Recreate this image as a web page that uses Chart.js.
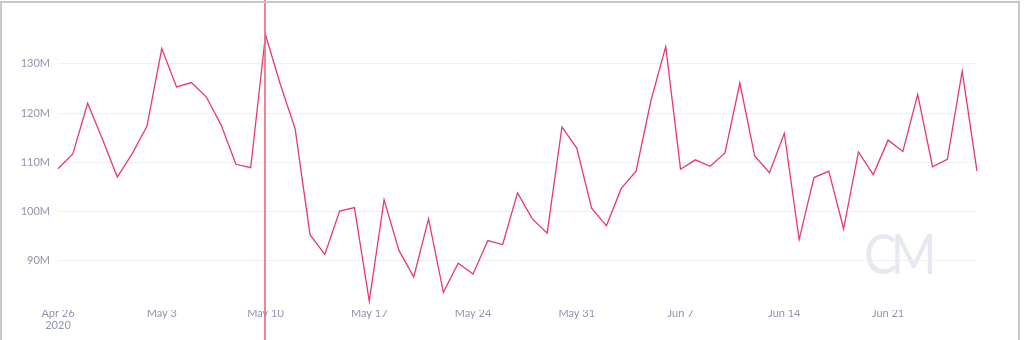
<!DOCTYPE html>
<html lang="en">
<head>
    <meta charset="UTF-8">
    <title>Daily volume</title>
    <script src="https://cdn.jsdelivr.net/npm/chart.js"></script>
    <style>
        body { margin: 0; background: #fff; overflow: hidden; }
        #wrap { position: relative; width: 1024px; height: 340px; }
        #frame {
            position: absolute; left: 0; top: 1px; width: 1016px; height: 400px;
            border: 2px solid #c6c8d0; pointer-events: none;
        }
    </style>
</head>
<body>
    <div id="wrap">
        <canvas id="chart" width="1024" height="340"></canvas>
        <div id="frame"></div>
    </div>

    <script>
        // Daily dates, Apr 26 - Jun 27 2020
        const dates = [
            'Apr 26', 'Apr 27', 'Apr 28', 'Apr 29', 'Apr 30', 'May 1', 'May 2',
            'May 3', 'May 4', 'May 5', 'May 6', 'May 7', 'May 8', 'May 9',
            'May 10', 'May 11', 'May 12', 'May 13', 'May 14', 'May 15', 'May 16',
            'May 17', 'May 18', 'May 19', 'May 20', 'May 21', 'May 22', 'May 23',
            'May 24', 'May 25', 'May 26', 'May 27', 'May 28', 'May 29', 'May 30',
            'May 31', 'Jun 1', 'Jun 2', 'Jun 3', 'Jun 4', 'Jun 5', 'Jun 6',
            'Jun 7', 'Jun 8', 'Jun 9', 'Jun 10', 'Jun 11', 'Jun 12', 'Jun 13',
            'Jun 14', 'Jun 15', 'Jun 16', 'Jun 17', 'Jun 18', 'Jun 19', 'Jun 20',
            'Jun 21', 'Jun 22', 'Jun 23', 'Jun 24', 'Jun 25', 'Jun 26', 'Jun 27'
        ];

        // values in millions
        const values = [
            108.7, 111.7, 122.0, 114.7, 107.0, 111.7, 117.3,
            133.1, 125.3, 126.2, 123.3, 117.6, 109.6, 108.9,
            135.9, 125.8, 116.8, 95.3, 91.3, 100.1, 100.8,
            81.8, 102.4, 92.1, 86.7, 98.5, 83.6, 89.5,
            87.3, 94.1, 93.3, 103.8, 98.5, 95.6, 117.2,
            112.9, 100.7, 97.1, 104.7, 108.2, 122.5, 133.5,
            108.6, 110.5, 109.2, 111.9, 126.1, 111.3, 107.9,
            115.9, 94.3, 106.9, 108.2, 96.5, 112.1, 107.5,
            114.5, 112.2, 123.8, 109.1, 110.6, 128.5, 108.2
        ];

        const yTicks = [90, 100, 110, 120, 130];
        const year = '2020';
        const hoverIndex = 14;

        const labelColor = '#8f95ad';

        // vertical cursor line + CM watermark
        const extras = {
            id: 'extras',
            beforeDatasetsDraw(chart) {
                const ctx = chart.ctx;
                ctx.save();
                ctx.fillStyle = '#e6e9f2';
                ctx.font = '400 56px Lato';
                ctx.letterSpacing = '-7px';
                ctx.textBaseline = 'alphabetic';
                ctx.translate(864, 274);
                ctx.scale(0.88, 1);
                ctx.fillText('CM', 0, 0);
                ctx.restore();
            },
            afterDatasetsDraw(chart) {
                const ctx = chart.ctx;
                const x = Math.round(chart.scales.x.getPixelForValue(hoverIndex));
                ctx.save();
                ctx.fillStyle = 'rgba(240, 110, 120, 0.85)';
                ctx.fillRect(x - 2, 0, 2, chart.height);
                ctx.restore();
            }
        };

        new Chart(document.getElementById('chart'), {
            type: 'line',
            data: {
                labels: dates,
                datasets: [{
                    data: values.map(v => v * 1e6),
                    borderColor: '#e8386c',
                    borderWidth: 1.3,
                    pointRadius: 0,
                    fill: false,
                    tension: 0
                }]
            },
            options: {
                responsive: false,
                animation: false,
                layout: { padding: { top: 10, right: 47, left: 0, bottom: 0 } },
                plugins: { legend: { display: false }, tooltip: { enabled: false } },
                scales: {
                    x: {
                        offset: false,
                        grid: { display: false, drawTicks: false },
                        border: { display: false },
                        afterFit: (s) => { s.height = 30; },
                        ticks: {
                            autoSkip: false,
                            maxRotation: 0,
                            padding: -2,
                            color: labelColor,
                            font: { family: 'Lato', size: 11, lineHeight: 1.05 },
                            callback: function (val, i) {
                                if (i % 7 !== 0) return '';
                                return i === 0 ? [dates[i], year] : dates[i];
                            }
                        }
                    },
                    y: {
                        min: 80e6,
                        max: 140e6,
                        afterFit: (s) => { s.width = 58; },
                        afterBuildTicks: (s) => {
                            s.ticks = yTicks.map(v => ({ value: v * 1e6 }));
                        },
                        grid: { color: '#eef0f5', drawTicks: false },
                        border: { display: false },
                        ticks: {
                            padding: 8,
                            color: labelColor,
                            font: { family: 'Lato', size: 11 },
                            callback: (v) => (v / 1e6) + 'M'
                        }
                    }
                }
            },
            plugins: [extras]
        });
    </script>
</body>
</html>
